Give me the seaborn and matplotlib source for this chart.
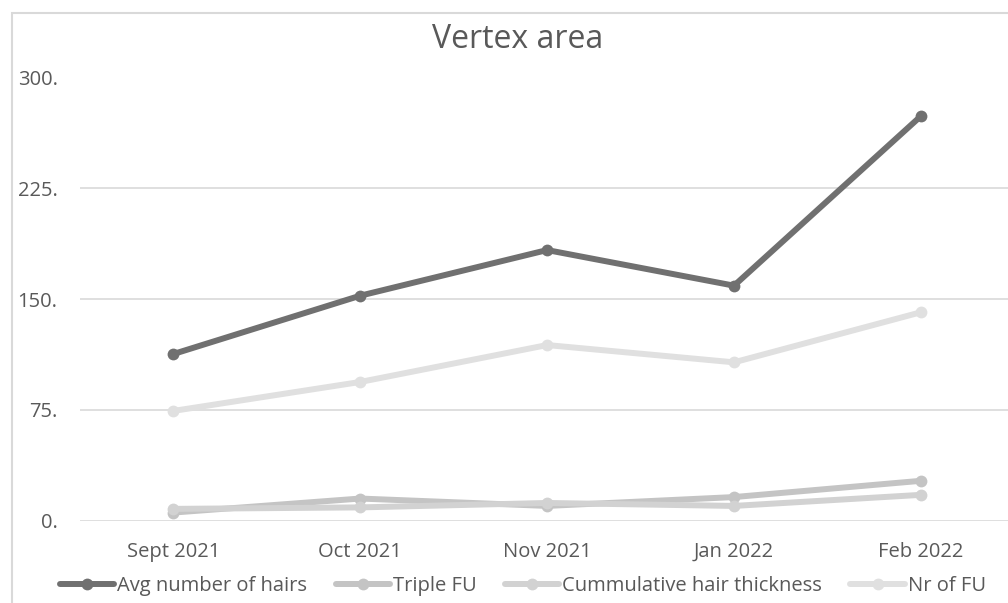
import pandas as pd
import numpy as np
import matplotlib
matplotlib.use("Agg")
import matplotlib.pyplot as plt
from matplotlib.patches import Rectangle
import seaborn as sns

months = ["Sept 2021", "Oct 2021", "Nov 2021", "Jan 2022", "Feb 2022"]
avg_hairs = [112.8, 152.3, 183.2, 159.1, 273.9]
triple_fu = [5.5, 15.0, 10.0, 16.0, 27.0]
cumulative_thickness = [8.0, 9.0, 12.0, 10.0, 17.5]
nr_fu = [74.3, 93.9, 118.9, 107.2, 141.1]

series_names = ["Avg number of hairs", "Triple FU", "Cummulative hair thickness", "Nr of FU"]
series_values = [avg_hairs, triple_fu, cumulative_thickness, nr_fu]
colors = ["#707070", "#c4c4c4", "#d2d2d2", "#e0e0e0"]

df = pd.DataFrame(
    [(m, v, name) for name, vals in zip(series_names, series_values) for m, v in zip(months, vals)],
    columns=["month", "value", "series"],
)

sns.set_style("white")
plt.rcParams["font.family"] = ["Open Sans", "DejaVu Sans"]
text_color = "#595959"

fig = plt.figure(figsize=(10.08, 6.03), dpi=100)
ax = fig.add_axes([79.8 / 1008, 1 - 520.7 / 603, 934.6 / 1008, (520.7 - 77.5) / 603])

sns.lineplot(
    data=df, x="month", y="value", hue="series", hue_order=series_names,
    palette=colors, marker="o", markersize=8.5, markeredgewidth=0,
    linewidth=4.3, sort=False, ax=ax, legend=True,
)
for line in ax.lines:
    line.set_clip_on(False)

ax.set_xlim(-0.5, 4.5)
ax.set_ylim(0, 300)
ax.set_yticks([0, 75, 150, 225, 300])
ax.set_yticklabels(["0.", "75.", "150.", "225.", "300."])
ax.yaxis.grid(True, color="#d9d9d9", linewidth=1.2)
ax.set_axisbelow(True)
for s in ax.spines.values():
    s.set_visible(False)
ax.tick_params(axis="both", length=0, labelsize=14.5, labelcolor=text_color)
ax.tick_params(axis="y", pad=16)
ax.tick_params(axis="x", pad=15)
ax.set_xlabel("")
ax.set_ylabel("")

handles, labels = ax.get_legend_handles_labels()
ax.get_legend().remove()
fig.legend(
    handles, labels, loc="center", bbox_to_anchor=(523 / 1008, 1 - 586 / 603),
    ncol=4, frameon=False, fontsize=14.5, labelcolor=text_color,
    handlelength=2.7, handletextpad=0.15, columnspacing=1.4,
)

fig.text(518 / 1008, 1 - 40 / 603, "Vertex area", ha="center", va="center",
         fontsize=23, color=text_color)

fig.patches.append(Rectangle((12 / 1008, -0.2), 1.2, 1.2 - 13 / 603, transform=fig.transFigure,
                             fill=False, edgecolor="#d9d9d9", linewidth=1.5))

fig.savefig("out.png", dpi=100)
